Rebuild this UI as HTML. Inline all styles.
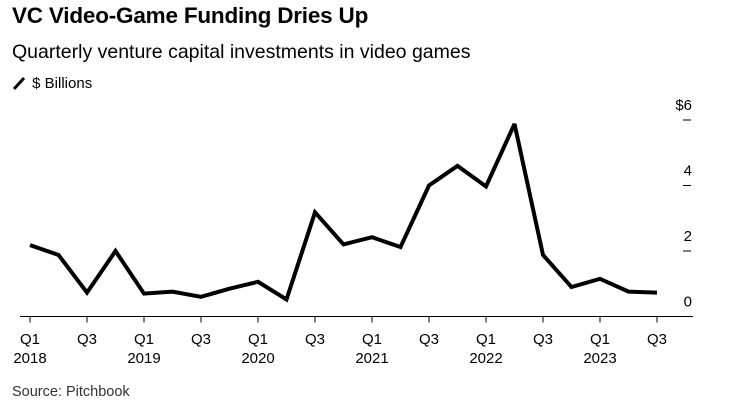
<!DOCTYPE html>
<html><head><meta charset="utf-8"><style>
body{margin:0;background:#fff;font-family:"Liberation Sans",Arial,sans-serif;}
#wrap{position:relative;width:750px;height:410px;overflow:hidden}
.t{position:absolute;white-space:nowrap;color:#000}
</style></head><body>
<div id="wrap">
<div class="t" style="left:12px;top:3px;font-size:22.5px;font-weight:bold;letter-spacing:-0.2px">VC Video-Game Funding Dries Up</div>
<div class="t" style="left:12px;top:41px;font-size:19.5px">Quarterly venture capital investments in video games</div>
<div class="t" style="left:12px;top:75px;font-size:15px"><svg width="16" height="14" style="vertical-align:-2px"><line x1="2" y1="13" x2="12" y2="2" stroke="#000" stroke-width="3"/></svg> $ Billions</div>
<div class="t" style="left:12px;top:384px;font-size:14.5px;color:#333">Source: Pitchbook</div>
<svg id="chart" width="750" height="410" style="position:absolute;left:0;top:0"></svg>
</div>
<script>
const quarters=["Q1 2018","Q2 2018","Q3 2018","Q4 2018","Q1 2019","Q2 2019","Q3 2019","Q4 2019","Q1 2020","Q2 2020","Q3 2020","Q4 2020","Q1 2021","Q2 2021","Q3 2021","Q4 2021","Q1 2022","Q2 2022","Q3 2022","Q4 2022","Q1 2023","Q2 2023","Q3 2023"];
const values=[2.18,1.88,0.73,2.0,0.7,0.76,0.6,0.85,1.06,0.52,3.18,2.2,2.42,2.12,4.0,4.6,3.97,5.88,1.88,0.9,1.15,0.76,0.73];
const yTicks=[0,2,4,6];
const yTickLabels=["0","2","4","$6"];
const xTickQ=["Q1","Q3","Q1","Q3","Q1","Q3","Q1","Q3","Q1","Q3","Q1","Q3"];
const xTickYears=["2018","","2019","","2020","","2021","","2022","","2023",""];
const NS="http://www.w3.org/2000/svg";
const svg=document.getElementById('chart');
const x0=30,x1=657,yZero=316.5,yPer=32.75;
const xs=i=>x0+(x1-x0)*i/(quarters.length-1);
const ys=v=>yZero-v*yPer;
function mk(t,a){const e=document.createElementNS(NS,t);for(const k in a)e.setAttribute(k,a[k]);svg.appendChild(e);return e;}
let base=mk('line',{x1:20,x2:693,y1:yZero,y2:yZero,stroke:'#000','stroke-width':1});


yTicks.forEach((v,i)=>{
  if(v>0){const tk=mk('line',{x1:683,x2:691,y1:ys(v),y2:ys(v),stroke:'#000','stroke-width':1});
  
  }
  const tx=mk('text',{x:692,y:ys(v)-10,'text-anchor':'end','font-size':15,'font-family':'Liberation Sans, Arial, sans-serif'});
  tx.textContent=yTickLabels[i];
  
  
});
xTickQ.forEach((q,i)=>{
  const x=xs(i*2);
  const tk=mk('line',{x1:x,x2:x,y1:yZero,y2:yZero+6,stroke:'#000','stroke-width':1});
  
  
  const t=mk('text',{x:x,y:344,'text-anchor':'middle','font-size':15,'font-family':'Liberation Sans, Arial, sans-serif'});
  t.textContent=q;
  
  
  if(xTickYears[i]){const y=mk('text',{x:x,y:363,'text-anchor':'middle','font-size':15,'font-family':'Liberation Sans, Arial, sans-serif'});
  y.textContent=xTickYears[i];
  
  }
});
const pts=values.map((v,i)=>xs(i)+','+ys(v)).join(' ');
const line=mk('polyline',{points:pts,fill:'none',stroke:'#000','stroke-width':4,'stroke-linejoin':'miter','stroke-miterlimit':3});


</script>
</body></html>
